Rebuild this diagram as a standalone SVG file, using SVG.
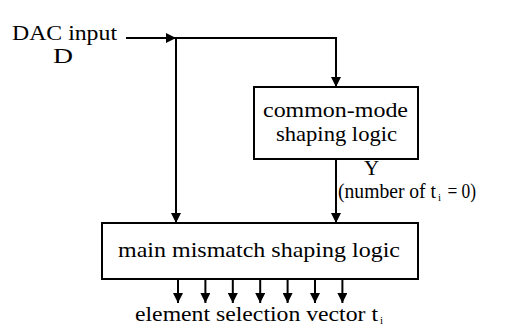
<svg xmlns="http://www.w3.org/2000/svg" width="509" height="329" viewBox="0 0 509 329">
  <style>
    .box { fill: #fff; stroke: #000; stroke-width: 2; }
    .wire { fill: none; stroke: #000; stroke-width: 2; }
    text { font-family: 'Liberation Serif', 'Times New Roman', Times, 'DejaVu Serif', serif; font-size: 21px; fill: #000; }
    .sub { font-size: 11px; }
  </style>
  <defs>
    <marker id="arrowDown" viewBox="0 0 10 10" refX="10" refY="5" markerWidth="10" markerHeight="10" markerUnits="userSpaceOnUse" orient="auto">
      <path d="M0,0 L10,5 L0,10 Z" fill="#000"/>
    </marker>
  </defs>

  <rect width="509" height="329" fill="#fff"/>

  <g id="input-label">
    <text x="12" y="40" textLength="105" lengthAdjust="spacingAndGlyphs">DAC input</text>
    <text x="53" y="63" textLength="20" lengthAdjust="spacingAndGlyphs">D</text>
  </g>

  <g id="common-mode-logic">
    <rect class="box" x="254" y="87" width="164" height="72"/>
    <text x="263" y="117" textLength="145" lengthAdjust="spacingAndGlyphs">common-mode</text>
    <text x="276" y="141" textLength="121" lengthAdjust="spacingAndGlyphs">shaping logic</text>
  </g>

  <g id="main-logic">
    <rect class="box" x="102" y="223" width="316" height="56"/>
    <text x="118" y="257" textLength="282" lengthAdjust="spacingAndGlyphs">main mismatch shaping logic</text>
  </g>

  <g id="y-label">
    <text x="364" y="175">Y</text>
    <text x="338" y="198"><tspan textLength="98" lengthAdjust="spacingAndGlyphs">(number of t</tspan><tspan class="sub" dx="2" dy="3">i</tspan><tspan dx="2" dy="-3" textLength="33" lengthAdjust="spacingAndGlyphs"> = 0)</tspan></text>
  </g>

  <g id="output-label">
    <text x="135" y="321"><tspan textLength="243" lengthAdjust="spacingAndGlyphs">element selection vector t</tspan><tspan class="sub" dx="2" dy="3">i</tspan></text>
  </g>

  <g id="connectors">
    <!-- input D into the tee -->
    <path class="wire" d="M126,38 H176" marker-end="url(#arrowDown)"/>
    <path class="wire" d="M176,38 H336 V87" marker-end="url(#arrowDown)"/>
    <path class="wire" d="M176,38 V223" marker-end="url(#arrowDown)"/>
    <!-- Y into main logic -->
    <path class="wire" d="M336,159 V223" marker-end="url(#arrowDown)"/>
    <!-- element selection outputs -->
    <path class="wire" d="M178,279 V303" marker-end="url(#arrowDown)"/>
    <path class="wire" d="M205.4,279 V303" marker-end="url(#arrowDown)"/>
    <path class="wire" d="M232.8,279 V303" marker-end="url(#arrowDown)"/>
    <path class="wire" d="M260.2,279 V303" marker-end="url(#arrowDown)"/>
    <path class="wire" d="M287.6,279 V303" marker-end="url(#arrowDown)"/>
    <path class="wire" d="M315,279 V303" marker-end="url(#arrowDown)"/>
    <path class="wire" d="M342.4,279 V303" marker-end="url(#arrowDown)"/>
  </g>
</svg>
